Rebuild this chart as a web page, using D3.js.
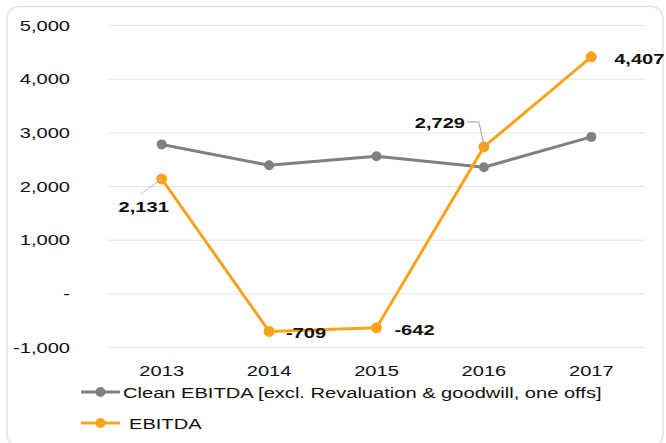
<!DOCTYPE html>
<html>
<head>
<meta charset="utf-8">
<script src="https://cdn.jsdelivr.net/npm/d3@7"></script>
<style>
  body { margin: 0; background: #fff; }
  text { font-family: "Liberation Sans", Arial, sans-serif; fill: #111; }
</style>
</head>
<body>
<div id="chart"></div>
<script>
var years = ["2013", "2014", "2015", "2016", "2017"];
var cleanEbitda = [2775, 2385, 2555, 2350, 2915];
var ebitda = [2131, -709, -642, 2729, 4407];
var yTicks = [-1000, 0, 1000, 2000, 3000, 4000, 5000];
var seriesNames = ["Clean EBITDA [excl. Revaluation & goodwill, one offs]", "EBITDA"];

// label offsets from each EBITDA point (text centre / baseline)
var labelOffsets = [[-18, 33], [37, 7], [38, 7.5], [-44, -18.5], [48, 7]];
var grey = "#808080", orange = "#f9a21c";
var sx = 1.34; // the source font is drawn wide

var fmt = function(v){ return d3.format(",")(v).replace("\u2212", "-"); };

var svg = d3.select("#chart").append("svg")
  .attr("width", 666)
  .attr("height", 443);

svg.append("rect")
  .attr("x", 7).attr("y", 6.5)
  .attr("width", 656).attr("height", 440)
  .attr("rx", 12)
  .attr("fill", "none")
  .attr("stroke", "#e2e2e2")
  .attr("stroke-width", 1.5);

var x = d3.scaleBand().domain(years).range([108, 645]).padding(0);
var y = d3.scaleLinear().domain([-1000, 5000]).range([347, 25]);
function cx(d){ return x(d) + x.bandwidth() / 2; }

function wideText(g, tx, ty, str, anchor, weight){
  var t = g.append("g")
    .attr("transform", "translate(" + tx + "," + ty + ") scale(" + sx + ",1)")
    .append("text")
    .attr("text-anchor", anchor)
    .style("font-size", "15px")
    .text(str);
  if (weight) t.style("font-weight", weight);
  return t;
}

// grid
svg.append("g")
  .attr("transform", "translate(108,0)")
  .call(d3.axisLeft(y).tickValues(yTicks).tickSize(-537).tickFormat(""))
  .call(function(g){
    g.select(".domain").remove();
    g.selectAll("line").attr("stroke", "#e4e4e4").attr("stroke-width", 1);
  });

// y labels
var yLab = svg.append("g");
yTicks.forEach(function(v){
  wideText(yLab, 70, y(v) + 5.5, v === 0 ? "-" : fmt(v), "end");
});

// x labels
var xLab = svg.append("g");
years.forEach(function(yr){
  wideText(xLab, cx(yr), 376, yr, "middle");
});

var line = d3.line()
  .x(function(d, i){ return cx(years[i]); })
  .y(function(d){ return y(d); });

function drawSeries(data, color, w, r){
  svg.append("path")
    .datum(data)
    .attr("d", line)
    .attr("fill", "none")
    .attr("stroke", color)
    .attr("stroke-width", w)
    .attr("stroke-linejoin", "round");
  svg.append("g").selectAll("circle")
    .data(data)
    .enter()
    .append("circle")
    .attr("cx", function(d, i){ return cx(years[i]); })
    .attr("cy", function(d){ return y(d); })
    .attr("r", r)
    .attr("fill", color);
}

drawSeries(cleanEbitda, grey, 3, 5);
drawSeries(ebitda, orange, 3, 5.5);

// leader lines
var p0 = [cx(years[0]), y(ebitda[0])];
svg.append("path")
  .attr("d", "M" + p0[0] + "," + p0[1] + "L" + (p0[0] - 21) + "," + (p0[1] + 15))
  .attr("stroke", "#bdbdbd").attr("fill", "none").attr("stroke-width", 1);
var p3 = [cx(years[3]), y(ebitda[3])];
svg.append("path")
  .attr("d", "M" + p3[0] + "," + (p3[1] - 2) + "L" + (p3[0] - 5) + "," + (p3[1] - 25) + "L" + (p3[0] - 17) + "," + (p3[1] - 25))
  .attr("stroke", "#a0a0a0").attr("fill", "none").attr("stroke-width", 1);

// data labels
var dLab = svg.append("g");
ebitda.forEach(function(v, i){
  var o = labelOffsets[i];
  wideText(dLab, cx(years[i]) + o[0], y(v) + o[1], fmt(v), "middle", "bold");
});

// legend
var legend = svg.append("g");
[[grey, 392, 123], [orange, 423, 129]].forEach(function(l, i){
  legend.append("line")
    .attr("x1", 81).attr("x2", 120)
    .attr("y1", l[1]).attr("y2", l[1])
    .attr("stroke", l[0]).attr("stroke-width", 3);
  legend.append("circle")
    .attr("cx", 100.5).attr("cy", l[1]).attr("r", 5)
    .attr("fill", l[0]);
  wideText(legend, l[2], l[1] + 5.5, seriesNames[i], "start");
});
</script>
</body>
</html>
